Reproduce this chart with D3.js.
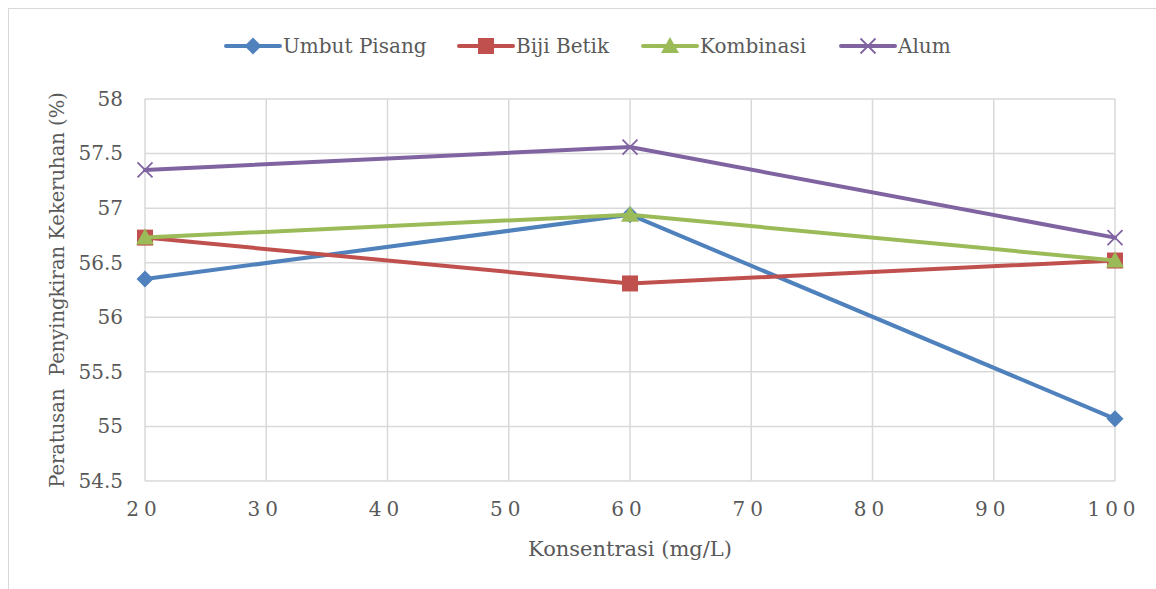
<!DOCTYPE html>
<html>
<head>
<meta charset="utf-8">
<script src="https://cdn.jsdelivr.net/npm/d3@7"></script>
<style>
html,body{margin:0;padding:0;background:#fff;}
svg{display:block;}
</style>
</head>
<body>
<svg id="chart" width="1156" height="589"></svg>
<script>
const concentrations = [20, 60, 100];
const xTicks = [20, 30, 40, 50, 60, 70, 80, 90, 100];
const yTicks = [54.5, 55, 55.5, 56, 56.5, 57, 57.5, 58];
const seriesNames = ["Umbut Pisang", "Biji Betik", "Kombinasi", "Alum"];
const umbutPisang = [56.35, 56.94, 55.07];
const bijiBetik = [56.73, 56.31, 56.52];
const kombinasi = [56.73, 56.94, 56.52];
const alum = [57.35, 57.56, 56.73];
const xTitle = "Konsentrasi (mg/L)";
const yTitle = "Peratusan  Penyingkiran Kekeruhan (%)";

const series = [
  {name: seriesNames[0], values: umbutPisang, color: "#4F81BD", marker: "diamond"},
  {name: seriesNames[1], values: bijiBetik, color: "#C0504D", marker: "square"},
  {name: seriesNames[2], values: kombinasi, color: "#9BBB59", marker: "triangle"},
  {name: seriesNames[3], values: alum, color: "#8064A2", marker: "x"}
];

const FONT = "'DejaVu Serif', serif";
const svg = d3.select("#chart");
const W = 1156, H = 589;
const m = {left: 145, right: 1115, top: 99, bottom: 481};

svg.append("rect").attr("x", 8.5).attr("y", 8.5).attr("width", W + 10).attr("height", H + 10)
  .attr("fill", "#fff").attr("stroke", "#D9D9D9").attr("stroke-width", 1);

const x = d3.scaleLinear().domain([20, 100]).range([m.left, m.right]);
const y = d3.scaleLinear().domain([54.5, 58]).range([m.bottom, m.top]);

// gridlines
const g = svg.append("g");
g.selectAll(".hg").data(yTicks).enter().append("line")
  .attr("x1", m.left).attr("x2", m.right)
  .attr("y1", d => y(d)).attr("y2", d => y(d))
  .attr("stroke", "#D9D9D9").attr("stroke-width", 1.5);
g.selectAll(".vg").data(xTicks).enter().append("line")
  .attr("y1", m.top).attr("y2", m.bottom)
  .attr("x1", d => x(d)).attr("x2", d => x(d))
  .attr("stroke", "#D9D9D9").attr("stroke-width", 1.5);

// y axis labels
const yAxis = d3.axisLeft(y).tickValues(yTicks).tickSize(0).tickPadding(22).tickFormat(d => String(d));
const ya = svg.append("g").attr("transform", `translate(${m.left},0)`).call(yAxis);
ya.select(".domain").remove();
ya.selectAll("text").attr("font-family", FONT).attr("font-size", 20).attr("fill", "#595959");

// x axis labels
const xAxis = d3.axisBottom(x).tickValues(xTicks).tickSize(0).tickPadding(21).tickFormat(d => String(d));
const xa = svg.append("g").attr("transform", `translate(0,${m.bottom})`).call(xAxis);
xa.select(".domain").remove();
xa.selectAll("text").attr("font-family", FONT).attr("font-size", 20).attr("fill", "#595959")
  .attr("letter-spacing", "5px").attr("dx", "-1.5px");

// titles
svg.append("text").attr("x", 630).attr("y", 556)
  .attr("text-anchor", "middle").attr("font-family", FONT).attr("font-size", 21).attr("fill", "#595959")
  .text(xTitle);
svg.append("text").attr("transform", `translate(64,${(m.top + m.bottom) / 2}) rotate(-90)`)
  .attr("text-anchor", "middle").attr("font-family", FONT).attr("font-size", 19.5).attr("fill", "#595959")
  .attr("xml:space", "preserve").style("white-space", "pre")
  .text(yTitle);

function drawMarker(sel, type, color, cx, cy) {
  if (type === "diamond") {
    sel.append("path").attr("d", `M${cx},${cy-8.5}L${cx+8.5},${cy}L${cx},${cy+8.5}L${cx-8.5},${cy}Z`).attr("fill", color);
  } else if (type === "square") {
    sel.append("rect").attr("x", cx - 8).attr("y", cy - 8).attr("width", 16).attr("height", 16).attr("fill", color);
  } else if (type === "triangle") {
    sel.append("path").attr("d", `M${cx},${cy-9}L${cx+9},${cy+7}L${cx-9},${cy+7}Z`).attr("fill", color);
  } else if (type === "x") {
    sel.append("path").attr("d", `M${cx-7.5},${cy-7.5}L${cx+7.5},${cy+7.5}M${cx+7.5},${cy-7.5}L${cx-7.5},${cy+7.5}`)
      .attr("stroke", color).attr("stroke-width", 1.8).attr("fill", "none");
  }
}

const line = d3.line().x((d, i) => x(concentrations[i])).y(d => y(d));
series.forEach(s => {
  const sg = svg.append("g");
  sg.append("path").datum(s.values).attr("d", line).attr("fill", "none")
    .attr("stroke", s.color).attr("stroke-width", 4).attr("stroke-linejoin", "round").attr("stroke-linecap", "round");
  s.values.forEach((v, i) => drawMarker(sg, s.marker, s.color, x(concentrations[i]), y(v)));
});

// legend
const legendX = [226, 459, 643, 841];
const leg = svg.append("g");
series.forEach((s, i) => {
  const lx = legendX[i], ly = 46;
  leg.append("line").attr("x1", lx).attr("x2", lx + 54).attr("y1", ly).attr("y2", ly)
    .attr("stroke", s.color).attr("stroke-width", 4).attr("stroke-linecap", "round");
  drawMarker(leg, s.marker, s.color, lx + 27, ly);
  leg.append("text").attr("x", lx + 57).attr("y", ly + 7).attr("font-family", FONT).attr("font-size", 20)
    .attr("fill", "#595959").text(s.name);
});
</script>
</body>
</html>
